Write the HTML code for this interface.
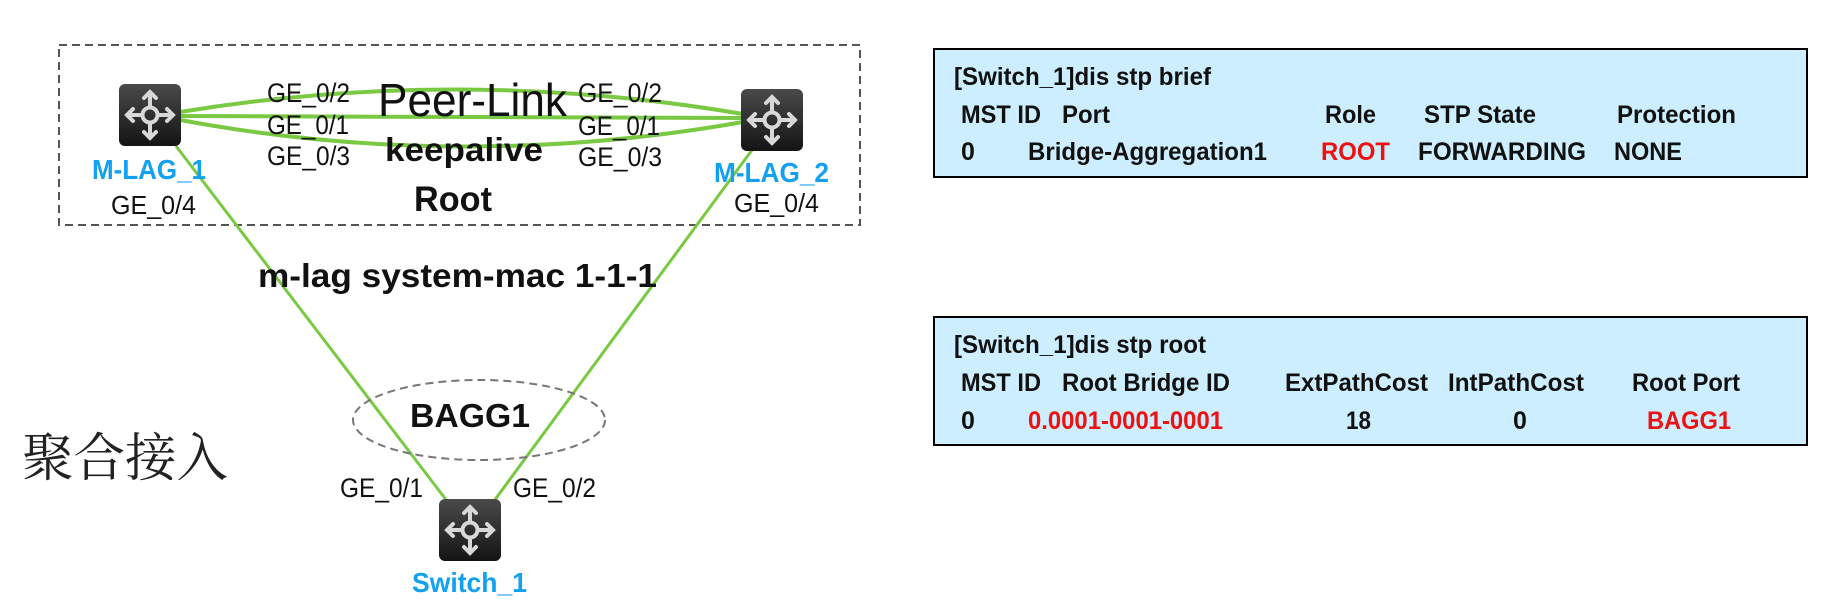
<!DOCTYPE html>
<html><head><meta charset="utf-8"><style>
html,body{margin:0;padding:0;background:#fff;}
svg{display:block;}
text{font-family:"Liberation Sans",Arial,sans-serif;}
</style></head><body>
<svg width="1828" height="609" viewBox="0 0 1828 609" xmlns="http://www.w3.org/2000/svg">
<defs>
<linearGradient id="g" x1="0" y1="0" x2="0" y2="1"><stop offset="0" stop-color="#4a4a4a"/><stop offset="1" stop-color="#141414"/></linearGradient>
<g id="ic">
<rect x="0" y="0" width="62" height="62" rx="6" fill="url(#g)"/>
<g stroke="#d8d8d8" stroke-width="4" fill="none" stroke-linecap="round">
<circle cx="31" cy="31" r="7.5"/>
<line x1="31" y1="23" x2="31" y2="9"/><line x1="31" y1="39" x2="31" y2="53"/>
<line x1="23" y1="31" x2="9" y2="31"/><line x1="39" y1="31" x2="53" y2="31"/>
<polyline points="25,14 31,8 37,14"/><polyline points="25,48 31,54 37,48"/>
<polyline points="14,25 8,31 14,37"/><polyline points="48,25 54,31 48,37"/>
</g>
</g>
</defs>

<rect x="59" y="45" width="801" height="180" fill="none" stroke="#555" stroke-width="2" stroke-dasharray="8,5"/>

<g stroke="#7ac943" fill="none">
<path d="M180 112 Q461 66 743 114" stroke-width="4"/>
<path d="M180 116 L743 118" stroke-width="4"/>
<path d="M180 120 Q461 172 743 122" stroke-width="4"/>
<line x1="176" y1="146" x2="447" y2="501" stroke-width="3"/>
<line x1="752" y1="150" x2="494" y2="501" stroke-width="3"/>
</g>

<ellipse cx="479" cy="420" rx="126" ry="40" fill="none" stroke="#777" stroke-width="2" stroke-dasharray="8,5"/>

<use href="#ic" x="119" y="84"/>
<use href="#ic" x="741" y="89"/>
<use href="#ic" x="439" y="499"/>

<g font-size="27" fill="#111">
<text x="267" y="102" textLength="83" lengthAdjust="spacingAndGlyphs">GE_0/2</text>
<text x="267" y="134" textLength="82" lengthAdjust="spacingAndGlyphs">GE_0/1</text>
<text x="267" y="165" textLength="83" lengthAdjust="spacingAndGlyphs">GE_0/3</text>
<text x="578" y="102" textLength="84" lengthAdjust="spacingAndGlyphs">GE_0/2</text>
<text x="578" y="135" textLength="82" lengthAdjust="spacingAndGlyphs">GE_0/1</text>
<text x="578" y="166" textLength="84" lengthAdjust="spacingAndGlyphs">GE_0/3</text>
<text x="111" y="214" font-size="26" textLength="85" lengthAdjust="spacingAndGlyphs">GE_0/4</text>
<text x="734" y="212" font-size="26" textLength="85" lengthAdjust="spacingAndGlyphs">GE_0/4</text>
<text x="340" y="497" textLength="83" lengthAdjust="spacingAndGlyphs">GE_0/1</text>
<text x="513" y="497" textLength="83" lengthAdjust="spacingAndGlyphs">GE_0/2</text>
</g>
<text x="378" y="116" font-size="46" fill="#111" textLength="189" lengthAdjust="spacingAndGlyphs">Peer-Link</text>
<g font-weight="bold" fill="#111">
<text x="385" y="161" font-size="33" textLength="158" lengthAdjust="spacingAndGlyphs">keepalive</text>
<text x="414" y="211" font-size="35" textLength="78" lengthAdjust="spacingAndGlyphs">Root</text>
<text x="258" y="287" font-size="33" textLength="399" lengthAdjust="spacingAndGlyphs">m-lag system-mac 1-1-1</text>
<text x="410" y="427" font-size="33" textLength="120" lengthAdjust="spacingAndGlyphs">BAGG1</text>
</g>
<g font-weight="bold" fill="#12a0f0" font-size="28">
<text x="92" y="179" textLength="114" lengthAdjust="spacingAndGlyphs">M-LAG_1</text>
<text x="714" y="182" textLength="115" lengthAdjust="spacingAndGlyphs">M-LAG_2</text>
<text x="412" y="592" textLength="115" lengthAdjust="spacingAndGlyphs">Switch_1</text>
</g>
<text x="22" y="476" font-size="52" fill="#222" style="font-family:'Liberation Serif','Noto Serif CJK SC',serif" textLength="206" lengthAdjust="spacingAndGlyphs">聚合接入</text>

<rect x="934" y="49" width="873" height="128" fill="#cdeefe" stroke="#000" stroke-width="2"/>
<rect x="934" y="317" width="873" height="128" fill="#cdeefe" stroke="#000" stroke-width="2"/>
<g font-size="25" font-weight="bold" fill="#111">
<text x="954" y="85" textLength="257" lengthAdjust="spacingAndGlyphs">[Switch_1]dis stp brief</text>
<text x="961" y="123" textLength="80" lengthAdjust="spacingAndGlyphs">MST ID</text>
<text x="1062" y="123" textLength="48" lengthAdjust="spacingAndGlyphs">Port</text>
<text x="1325" y="123" textLength="51" lengthAdjust="spacingAndGlyphs">Role</text>
<text x="1424" y="123" textLength="112" lengthAdjust="spacingAndGlyphs">STP State</text>
<text x="1617" y="123" textLength="119" lengthAdjust="spacingAndGlyphs">Protection</text>
<text x="961" y="160">0</text>
<text x="1028" y="160" textLength="239" lengthAdjust="spacingAndGlyphs">Bridge-Aggregation1</text>
<text x="1321" y="160" fill="#ee1111" textLength="69" lengthAdjust="spacingAndGlyphs">ROOT</text>
<text x="1418" y="160" textLength="168" lengthAdjust="spacingAndGlyphs">FORWARDING</text>
<text x="1614" y="160" textLength="68" lengthAdjust="spacingAndGlyphs">NONE</text>

<text x="954" y="353" textLength="252" lengthAdjust="spacingAndGlyphs">[Switch_1]dis stp root</text>
<text x="961" y="391" textLength="80" lengthAdjust="spacingAndGlyphs">MST ID</text>
<text x="1062" y="391" textLength="168" lengthAdjust="spacingAndGlyphs">Root Bridge ID</text>
<text x="1285" y="391" textLength="143" lengthAdjust="spacingAndGlyphs">ExtPathCost</text>
<text x="1448" y="391" textLength="136" lengthAdjust="spacingAndGlyphs">IntPathCost</text>
<text x="1632" y="391" textLength="108" lengthAdjust="spacingAndGlyphs">Root Port</text>
<text x="961" y="429">0</text>
<text x="1028" y="429" fill="#ee1111" textLength="195" lengthAdjust="spacingAndGlyphs">0.0001-0001-0001</text>
<text x="1346" y="429" textLength="25" lengthAdjust="spacingAndGlyphs">18</text>
<text x="1513" y="429">0</text>
<text x="1647" y="429" fill="#ee1111" textLength="84" lengthAdjust="spacingAndGlyphs">BAGG1</text>
</g>
</svg>
</body></html>
